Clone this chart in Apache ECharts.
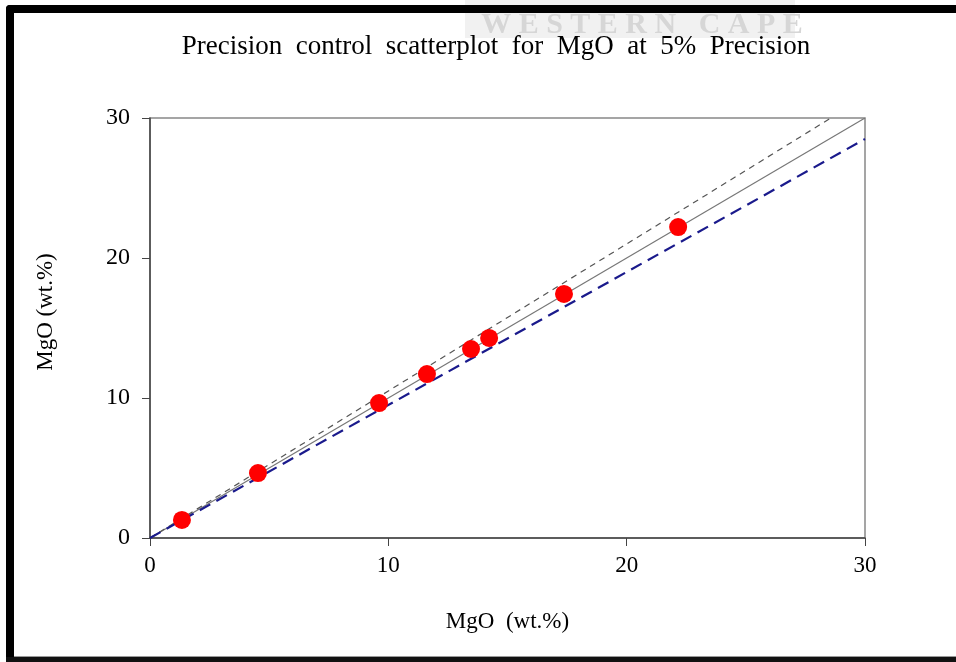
<!DOCTYPE html>
<html style="height: 100%">
<head>
  <meta charset="utf-8">
  <script src="https://cdn.jsdelivr.net/npm/echarts@6/dist/echarts.min.js"></script>
</head>
<body style="height: 100%; margin: 0; background: #fff">
  <div id="container" style="width: 956px; height: 662px"></div>
  <script type="text/javascript">
    // sample points, MgO wt.% (x: run 1, y: run 2)
    var mgoX = [1.34, 4.53, 9.61, 11.62, 13.47, 14.23, 17.37, 22.16];
    var mgoY = [1.29, 4.64, 9.64, 11.71, 13.50, 14.29, 17.43, 22.21];
    // reference lines: 1:1, +5%, -5%
    var lineEqual = [[0, 0], [30, 30]];
    var linePlus = [[0, 0], [28.57, 30]];
    var lineMinus = [[0, 0], [30, 28.5]];
    var tickLabels = ['0', '10', '20', '30'];

    var points = mgoX.map(function (x, i) { return [x, mgoY[i]]; });
    var font = '"Liberation Serif", "DejaVu Serif", serif';

    var dom = document.getElementById('container');
    var myChart = echarts.init(dom);

    var axisCommon = {
      type: 'value',
      min: 0,
      max: 30,
      interval: 10,
      splitLine: { show: false },
      axisLine: { show: true, lineStyle: { color: '#444', width: 1.5 } },
      axisTick: { show: true, inside: false, length: 8, lineStyle: { color: '#444' } },
      nameTextStyle: { fontFamily: font, fontSize: 23, color: '#000' }
    };

    var option = {
      animation: false,
      backgroundColor: '#fff',
      title: {
        text: 'Precision  control  scatterplot  for  MgO  at  5%  Precision',
        left: 491,
        top: 28,
        textAlign: 'center',
        textStyle: { fontFamily: font, fontSize: 27, fontWeight: 'normal', color: '#000' }
      },
      grid: {
        left: 150, top: 118, right: 91, bottom: 124,
        show: true, borderColor: '#888', borderWidth: 1.5
      },
      xAxis: Object.assign({}, axisCommon, {
        name: 'MgO  (wt.%)',
        nameLocation: 'middle',
        nameGap: 72,
        axisLabel: {
          fontFamily: font, fontSize: 23, color: '#000', margin: 16,
          formatter: function (v) { return tickLabels[v / 10]; }
        }
      }),
      yAxis: Object.assign({}, axisCommon, {
        name: 'MgO (wt.%)',
        nameLocation: 'middle',
        nameGap: 93,
        nameRotate: 90,
        nameTextStyle: { fontFamily: font, fontSize: 23, color: '#000', padding: [0, 0, 0, 32] },
        axisLabel: {
          fontFamily: font, fontSize: 24, color: '#000', margin: 20,
          formatter: function (v) { return tickLabels[v / 10]; }
        }
      }),
      graphic: [
        // watermark
        { type: 'rect', shape: { x: 465, y: 0, width: 330, height: 38 }, style: { fill: '#f1f1f1' }, z: 1 },
        {
          type: 'text', x: 642, y: 25, z: 2,
          style: {
            text: 'W E S T E R N   C A P E', fill: '#d6d6d6', align: 'center', verticalAlign: 'middle',
            font: 'bold 30px "Liberation Serif", serif'
          }
        },
        // frame
        { type: 'rect', shape: { x: 6, y: 5, width: 950, height: 8, r: [4, 0, 0, 0] }, style: { fill: '#000' }, z: 3 },
        { type: 'rect', shape: { x: 6, y: 5, width: 8, height: 657, r: [4, 0, 0, 0] }, style: { fill: '#000' }, z: 3 },
        { type: 'rect', shape: { x: 6, y: 657, width: 950, height: 5 }, style: { fill: '#111' }, z: 3 },
        { type: 'rect', shape: { x: 14, y: 656, width: 942, height: 1 }, style: { fill: '#999' }, z: 3 }
      ],
      series: [
        {
          type: 'line', data: lineEqual, symbol: 'none', silent: true,
          lineStyle: { color: '#777', width: 1.2 }
        },
        {
          type: 'line', data: linePlus, symbol: 'none', silent: true,
          lineStyle: { color: '#555', width: 1.2, type: [6, 5] }
        },
        {
          type: 'line', data: lineMinus, symbol: 'none', silent: true,
          lineStyle: { color: '#1a1a8c', width: 2.2, type: [12, 7] }
        },
        {
          type: 'scatter', data: points, symbolSize: 18, z: 5,
          itemStyle: { color: '#ff0000', opacity: 1 }
        }
      ]
    };
    myChart.setOption(option);
  </script>
</body>
</html>
